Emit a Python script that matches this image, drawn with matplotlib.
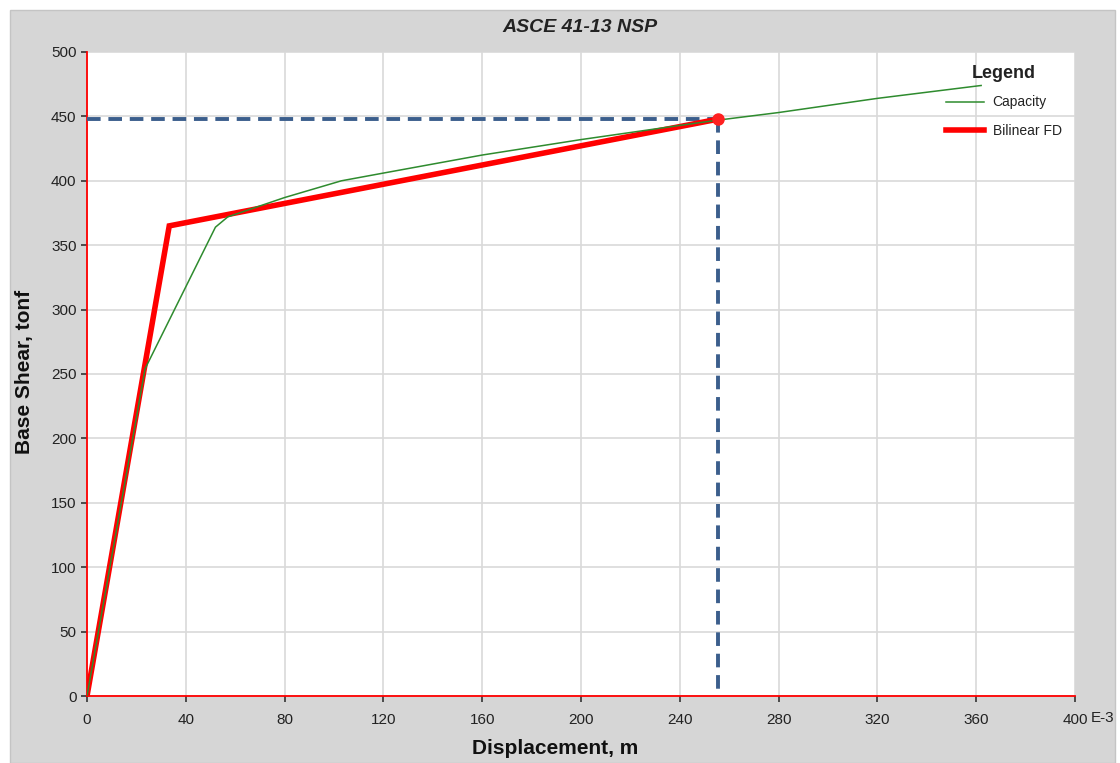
import matplotlib
matplotlib.use("Agg")
import matplotlib.pyplot as plt
from matplotlib.patches import Rectangle
from matplotlib.lines import Line2D

plt.rcParams['font.family'] = ['Liberation Sans', 'DejaVu Sans']

# Data (displacement in E-3 m, base shear in tonf)
cap_x = [0, 23.5, 52, 57, 80, 103, 120, 160, 200, 240, 255, 280, 320, 362]
cap_y = [0, 254, 364, 372, 387, 400, 406, 420, 432, 443, 447, 453, 464, 474]
bil_x = [0, 33.3, 254.5]
bil_y = [0, 365, 447.5]
perf_x = 255.5
perf_y = 448
xticks = [0, 40, 80, 120, 160, 200, 240, 280, 320, 360, 400]
xtick_labels = ['0', '40', '80', '120', '160', '200', '240', '280', '320', '360', '400']
yticks = [0, 50, 100, 150, 200, 250, 300, 350, 400, 450, 500]

fig = plt.figure(figsize=(11.2, 7.63), dpi=100, facecolor='white')
bg = Rectangle((10/1120, 0), 1105/1120, 753/763, transform=fig.transFigure,
               facecolor='#D6D6D6', edgecolor='#C4C4C4', lw=1, zorder=-10)
fig.add_artist(bg)

ax = fig.add_axes([87/1120, 1-696/763, 988/1120, 644/763])
ax.set_zorder(1)
ax.set_facecolor('white')
ax.set_xlim(0, 400)
ax.set_ylim(0, 500)
ax.set_xticks(xticks)
ax.set_xticklabels(xtick_labels)
ax.set_yticks(yticks)
ax.grid(True, color='#D9D9D9', lw=1.2)
ax.set_axisbelow(True)
for s in ['top', 'right']:
    ax.spines[s].set_visible(False)
for s in ['left', 'bottom']:
    ax.spines[s].set_color('red')
    ax.spines[s].set_linewidth(1.3)
ax.tick_params(axis='both', colors='#333333', labelcolor='#222222', labelsize=11,
               length=4, width=1.2, direction='out')
ax.tick_params(axis='x', pad=8)

# dashed performance point lines
ax.plot([0, perf_x], [perf_y, perf_y], color='#3B5E8C', lw=2.8, ls=(0, (3.5, 2)), zorder=3)
ax.plot([perf_x, perf_x], [perf_y, 5], color='#3B5E8C', lw=2.8, ls=(0, (3.5, 2)), zorder=3)

ax.plot(cap_x, cap_y, color='#2E8B2E', lw=1.1, zorder=5)
ax.plot(bil_x, bil_y, color='#FF0000', lw=4, zorder=4, solid_joinstyle='miter')
ax.plot([perf_x], [perf_y], 'o', color='#FF2020', ms=8, zorder=6)

ax.text((1091-87)/988, -(718-696)/644, 'E-3', transform=ax.transAxes, ha='left', va='center',
        fontsize=11, color='#222222')

fig.text(580/1120, 1-27/763, 'ASCE 41-13 NSP', ha='center', va='center',
         fontsize=14, fontweight='bold', fontstyle='italic', color='#222222')
fig.text(555/1120, 1-748/763, 'Displacement, m', ha='center', va='center',
         fontsize=15, fontweight='bold', color='#111111')
fig.text(25/1120, 1-372/763, 'Base Shear, tonf', ha='center', va='center',
         rotation=90, fontsize=15, fontweight='bold', color='#111111')

handles = [Line2D([], [], color='#2E8B2E', lw=1.1),
           Line2D([], [], color='#FF0000', lw=4)]
leg = ax.legend(handles, ['Capacity', 'Bilinear FD'], title='Legend', loc='upper left',
                bbox_to_anchor=(933/1120, 1-52/763), bbox_transform=fig.transFigure,
                frameon=False, fontsize=10, handlelength=2.8, labelspacing=1.05,
                handletextpad=0.6)
leg.get_title().set_fontweight('bold')
leg.get_title().set_fontsize(13)
leg.get_title().set_color('#222222')
leg._legend_box.sep = 10
for t in leg.get_texts():
    t.set_color('#222222')

fig.savefig('out.png', dpi=100, facecolor=fig.get_facecolor())
